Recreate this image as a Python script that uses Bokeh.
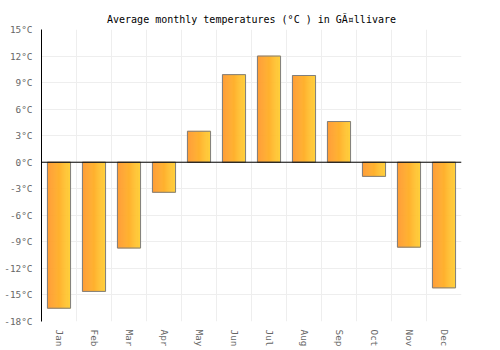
import math
from bokeh.plotting import figure
from bokeh.models import ColumnDataSource, Range1d, FixedTicker, PrintfTickFormatter, Span
from bokeh.transform import dodge
from bokeh.embed import file_html
from bokeh.resources import INLINE

months = ["Jan", "Feb", "Mar", "Apr", "May", "Jun", "Jul", "Aug", "Sep", "Oct", "Nov", "Dec"]
temps = [-16.5, -14.6, -9.7, -3.4, 3.5, 9.9, 12.0, 9.8, 4.6, -1.6, -9.6, -14.2]
y_ticks = [-18, -15, -12, -9, -6, -3, 0, 3, 6, 9, 12, 15]
title_text = "Average monthly temperatures (°C ) in GÃ¤llivare"

xs = [i + 0.5 for i in range(len(months))]
src = ColumnDataSource(dict(x=xs, temp=temps, month=months))

FONT = "DejaVu Sans Mono"
FS = "9.4px"

p = figure(width=500, height=350, output_backend="svg", toolbar_location=None,
           x_range=Range1d(0, len(months)), y_range=Range1d(y_ticks[0], y_ticks[-1]),
           min_border_left=41, min_border_right=39, min_border_top=29, min_border_bottom=29)
p.outline_line_color = None
p.background_fill_color = "white"

p.title.text = title_text
p.title.align = "center"
p.title.text_font = FONT
p.title.text_font_size = "10px"
p.title.text_font_style = "normal"
p.title.text_color = "black"
p.title.offset = 0

# gradient bars via thin stripes
bw = 0.66
N = 22
c0 = (255, 152, 46)
c1 = (255, 204, 51)
for i in range(N):
    t = i / (N - 1)
    col = "#%02x%02x%02x" % tuple(int(round(a + (b - a) * t)) for a, b in zip(c0, c1))
    off = -bw / 2 + (i + 0.5) * bw / N
    p.vbar(x=dodge("x", off), top="temp", bottom=0, width=bw / N, source=src,
           fill_color=col, line_color=col, line_width=0.6)
p.vbar(x="x", top="temp", bottom=0, width=bw, source=src,
       fill_color=None, line_color="#7f7f7f", line_width=1)

p.add_layout(Span(location=0, dimension="width", line_color="black", line_width=1))

# axes
p.yaxis.ticker = FixedTicker(ticks=y_ticks)
p.yaxis.formatter = PrintfTickFormatter(format="%d°C")
p.yaxis.axis_line_color = "black"
p.yaxis.major_tick_line_color = None
p.yaxis.minor_tick_line_color = None
p.yaxis.major_label_text_font = FONT
p.yaxis.major_label_text_font_size = FS
p.yaxis.major_label_text_color = "#666666"
p.yaxis.major_label_standoff = 3

p.xaxis.ticker = FixedTicker(ticks=xs)
p.xaxis.major_label_overrides = {x: m for x, m in zip(xs, months)}
p.xaxis.major_label_orientation = "vertical"
p.xaxis.axis_line_color = None
p.xaxis.major_tick_line_color = None
p.xaxis.minor_tick_line_color = None
p.xaxis.major_label_text_font = FONT
p.xaxis.major_label_text_font_size = FS
p.xaxis.major_label_text_color = "#666666"
p.xaxis.major_label_standoff = 2

p.xgrid.ticker = FixedTicker(ticks=list(range(len(months) + 1)))
p.ygrid.ticker = FixedTicker(ticks=y_ticks)
p.xgrid.grid_line_color = "#eeeeee"
p.ygrid.grid_line_color = "#eeeeee"

open("out.html", "w").write(file_html(p, INLINE))
